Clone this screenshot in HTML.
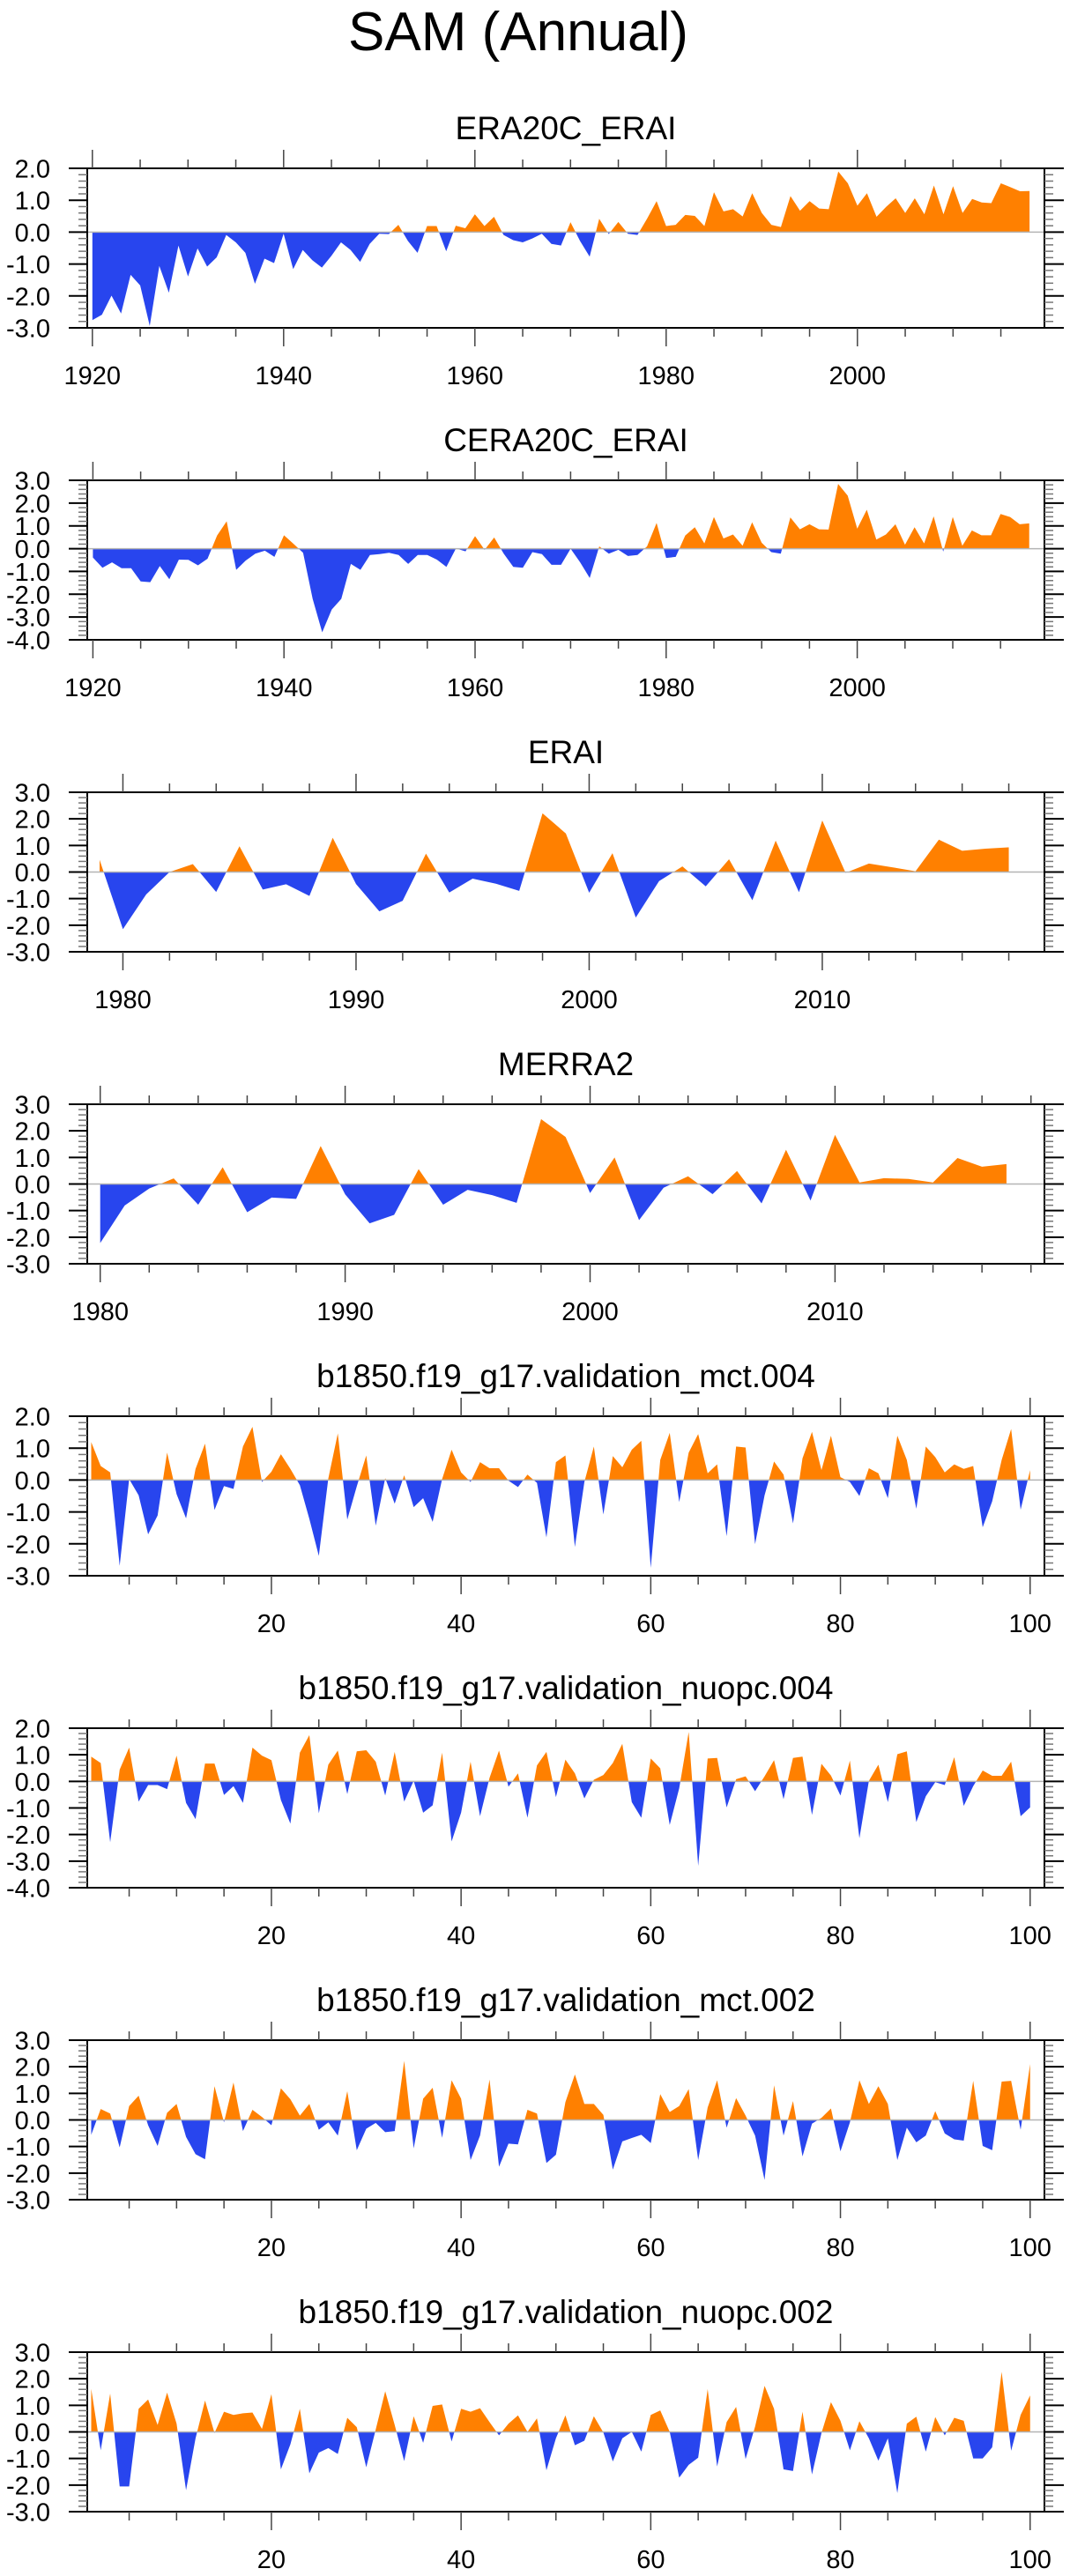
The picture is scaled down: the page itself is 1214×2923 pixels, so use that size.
<!DOCTYPE html>
<html><head><meta charset="utf-8"><title>SAM (Annual)</title>
<style>
html,body{margin:0;padding:0;background:#fff;}
svg{display:block;font-family:"Liberation Sans",sans-serif;}
</style></head>
<body>
<svg id="fig" xmlns="http://www.w3.org/2000/svg" width="1214" height="2923" viewBox="0 0 1214 2923">
<rect x="0" y="0" width="1214" height="2923" fill="#fff"/>
<text x="588" y="57" font-size="62" text-anchor="middle" fill="#000">SAM (Annual)</text>
</svg>
<script>
// ---------- data ----------
const titles = ["ERA20C_ERAI","CERA20C_ERAI","ERAI","MERRA2",
  "b1850.f19_g17.validation_mct.004","b1850.f19_g17.validation_nuopc.004",
  "b1850.f19_g17.validation_mct.002","b1850.f19_g17.validation_nuopc.002"];
const startYears = [1920,1920,1979,1980,1,1,1,1];
const yMins = [-3,-4,-3,-3,-3,-4,-3,-3];
const yMaxs = [2,3,3,3,2,2,3,3];
const xTickLabels = [[1920,1940,1960,1980,2000],[1920,1940,1960,1980,2000],[1980,1990,2000,2010],[1980,1990,2000,2010],[20,40,60,80,100],[20,40,60,80,100],[20,40,60,80,100],[20,40,60,80,100]];
const era20c = [-2.76,-2.59,-1.99,-2.55,-1.34,-1.67,-2.94,-1.06,-1.9,-0.42,-1.39,-0.51,-1.08,-0.79,-0.09,-0.32,-0.65,-1.62,-0.83,-0.97,-0.05,-1.16,-0.56,-0.88,-1.11,-0.74,-0.32,-0.56,-0.93,-0.37,-0.05,-0.06,0.23,-0.28,-0.65,0.19,0.19,-0.6,0.2,0.12,0.56,0.19,0.48,-0.09,-0.25,-0.32,-0.2,-0.05,-0.37,-0.42,0.31,-0.28,-0.77,0.42,-0.06,0.32,-0.05,-0.09,0.42,0.97,0.19,0.23,0.54,0.51,0.19,1.25,0.65,0.72,0.49,1.22,0.6,0.23,0.16,1.13,0.67,0.97,0.74,0.72,1.9,1.53,0.83,1.22,0.48,0.79,1.06,0.6,1.06,0.56,1.46,0.56,1.44,0.6,1.04,0.93,0.91,1.53,1.41,1.28,1.29];
const cera20c = [-0.39,-0.84,-0.6,-0.86,-0.86,-1.44,-1.47,-0.76,-1.34,-0.48,-0.49,-0.73,-0.44,0.58,1.2,-0.93,-0.52,-0.22,-0.09,-0.36,0.59,0.21,-0.18,-2.2,-3.67,-2.67,-2.2,-0.67,-0.93,-0.28,-0.24,-0.18,-0.28,-0.67,-0.28,-0.28,-0.48,-0.8,0.01,-0.12,0.55,-0.05,0.49,-0.22,-0.8,-0.84,-0.15,-0.24,-0.71,-0.71,0,-0.6,-1.29,0.1,-0.22,-0.05,-0.32,-0.28,0.1,1.13,-0.41,-0.36,0.58,0.94,0.23,1.39,0.45,0.62,0.13,1.16,0.26,-0.15,-0.22,1.37,0.85,1.07,0.85,0.84,2.84,2.33,0.88,1.71,0.4,0.62,1.07,0.17,0.94,0.23,1.42,-0.13,1.39,0.13,0.8,0.59,0.59,1.52,1.39,1.07,1.11];
const erai = [0.46,-2.15,-0.84,0.0,0.3,-0.75,0.97,-0.66,-0.46,-0.9,1.29,-0.45,-1.48,-1.08,0.69,-0.77,-0.25,-0.44,-0.71,2.21,1.45,-0.78,0.71,-1.71,-0.34,0.21,-0.54,0.48,-1.06,1.18,-0.76,1.94,-0.03,0.32,0.18,0.03,1.22,0.8,0.88,0.93];
const merra2 = [-2.22,-0.81,-0.17,0.21,-0.78,0.63,-1.06,-0.51,-0.56,1.43,-0.39,-1.48,-1.16,0.56,-0.78,-0.22,-0.42,-0.71,2.44,1.77,-0.34,1.0,-1.36,-0.14,0.29,-0.38,0.49,-0.73,1.29,-0.62,1.85,0.06,0.22,0.19,0.06,0.98,0.65,0.75];
const mct004 = [1.19,0.44,0.24,-2.69,0.03,-0.48,-1.7,-1.11,0.86,-0.44,-1.2,0.35,1.14,-0.94,-0.19,-0.28,1.05,1.67,-0.06,0.26,0.81,0.35,-0.16,-1.22,-2.38,0.05,1.46,-1.24,-0.2,0.77,-1.43,0.06,-0.74,0.15,-0.85,-0.57,-1.31,0.03,0.95,0.24,-0.06,0.56,0.37,0.37,-0.02,-0.22,0.17,-0.09,-1.8,0.56,0.77,-2.1,-0.06,1.05,-1.08,0.75,0.4,0.95,1.23,-2.75,0.63,1.48,-0.69,0.86,1.44,0.21,0.49,-1.76,1.05,1.02,-2.01,-0.48,0.58,0.17,-1.36,0.68,1.51,0.31,1.39,0.09,-0.06,-0.5,0.37,0.21,-0.57,1.39,0.63,-0.9,1.05,0.72,0.24,0.49,0.35,0.44,-1.48,-0.67,0.63,1.6,-0.93,0.31];
const nuopc004 = [0.93,0.69,-2.29,0.44,1.27,-0.76,-0.14,-0.14,-0.29,0.97,-0.81,-1.42,0.67,0.67,-0.51,-0.18,-0.81,1.27,0.97,0.8,-0.7,-1.59,1.08,1.74,-1.2,0.63,1.16,-0.48,1.13,1.17,0.74,-0.53,1.11,-0.76,0.02,-1.18,-0.9,1.08,-2.26,-1.18,0.74,-1.31,0.13,1.16,-0.2,0.3,-1.37,0.6,1.11,-0.59,0.82,0.3,-0.64,0.06,0.24,0.69,1.41,-0.78,-1.37,0.86,0.49,-1.64,-0.26,1.86,-3.18,0.86,0.88,-0.98,0.08,0.19,-0.37,0.19,0.8,-0.67,0.88,0.93,-1.26,0.66,0.22,-0.53,0.78,-2.14,0.02,0.63,-0.78,1.02,1.13,-1.53,-0.56,-0.03,-0.14,0.91,-0.92,-0.18,0.41,0.21,0.21,0.74,-1.31,-0.98];
const mct002 = [-0.56,0.41,0.24,-1.03,0.52,0.91,-0.2,-0.98,0.27,0.6,-0.64,-1.29,-1.48,1.27,-0.09,1.41,-0.42,0.38,0.11,-0.2,1.19,0.78,0.16,0.6,-0.37,-0.09,-0.59,1.08,-1.14,-0.33,-0.11,-0.46,-0.42,2.22,-1.07,0.8,1.21,-0.67,1.49,0.8,-1.51,-0.59,1.52,-1.76,-0.89,-0.92,0.38,0.24,-1.62,-1.31,0.67,1.71,0.6,0.6,0.19,-1.87,-0.81,-0.68,-0.56,-0.87,0.97,0.3,0.52,1.16,-1.51,0.47,1.49,-0.29,0.82,0.16,-0.59,-2.26,1.3,-0.59,0.71,-1.37,-0.14,0.08,0.43,-1.18,-0.09,1.49,0.6,1.27,0.6,-1.51,-0.29,-0.84,-0.59,0.33,-0.51,-0.73,-0.78,1.47,-0.98,-1.14,1.44,1.47,-0.37,2.1];
const nuopc002 = [1.62,-0.69,1.44,-2.05,-2.05,0.87,1.22,0.26,1.48,0.31,-2.19,-0.24,1.18,-0.04,0.76,0.64,0.7,0.73,0.11,1.42,-1.41,-0.47,0.87,-1.56,-0.78,-0.61,-0.83,0.53,0.18,-1.33,0.09,1.53,0.26,-1.1,0.59,-0.41,0.98,1.03,-0.36,0.87,0.76,0.89,0.37,-0.13,0.31,0.62,0,0.51,-1.44,-0.24,0.62,-0.5,-0.33,0.59,-0.02,-1.11,-0.24,0,-0.74,0.64,0.81,0,-1.72,-1.24,-0.97,1.61,-1.3,0.37,0.94,-1.02,0.2,1.73,0.87,-1.41,-1.47,0.76,-1.6,-0.04,1.12,0.42,-0.69,0.4,-0.24,-1.08,-0.24,-2.3,0.31,0.57,-0.74,0.56,-0.13,0.53,0.42,-1.0,-1.0,-0.58,2.26,-0.71,0.64,1.37];
const seriesList = [era20c,cera20c,erai,merra2,mct004,nuopc004,mct002,nuopc002];

// ---------- layout ----------
const NS = "http://www.w3.org/2000/svg";
const svg = document.getElementById("fig");
const FL = 99, FR = 1185, PH = 181;
// per-panel x-axis (pixel of first unit, pixel per unit) + tick settings
const xAxes = [
  {x0:104.8, u:10.85, minor:5, lo:1920, hi:2019},
  {x0:105.4, u:10.84, minor:5, lo:1920, hi:2019},
  {x0:113.0, u:26.45, minor:2, lo:1978, hi:2019},
  {x0:113.7, u:27.79, minor:2, lo:1980, hi:2019},
  {x0:103.5, u:10.76, minor:5, lo:1, hi:101},
  {x0:103.5, u:10.76, minor:5, lo:1, hi:101},
  {x0:103.5, u:10.76, minor:5, lo:1, hi:101},
  {x0:103.5, u:10.76, minor:5, lo:1, hi:101}
];
function mk(tag, attrs, parent){
  const e = document.createElementNS(NS, tag);
  for (const k in attrs) e.setAttribute(k, attrs[k]);
  (parent||svg).appendChild(e);
  return e;
}
function fmt(v){ return (v<0?"-":"") + Math.abs(v).toFixed(1); }

for (let p=0; p<8; p++){
  const top = 191 + 354*p, bot = top + PH;
  const ax = xAxes[p], first = startYears[p];
  const xs = v => ax.x0 + (v - first)*ax.u;
  const ymin = yMins[p], ymax = yMaxs[p];
  const ys = v => top + (ymax - v)/(ymax - ymin)*PH;
  const g = mk("g", {});
  
  

  const t = mk("text", {x:642, y:top-33, "font-size":37, "text-anchor":"middle", fill:"#000"}, g);
  t.textContent = titles[p];
  
  

  // area fills
  const vals = seriesList[p];
  const z = ys(0);
  let d = "M" + xs(first).toFixed(2) + "," + z.toFixed(2);
  vals.forEach((v,i)=>{ d += " L" + xs(first+i).toFixed(2) + "," + ys(v).toFixed(2); });
  d += " L" + xs(first+vals.length-1).toFixed(2) + "," + z.toFixed(2) + " Z";
  const cid = "c"+p;
  const defs = mk("defs", {}, g);
  const cpA = mk("clipPath", {id:cid+"a"}, defs);
  mk("rect", {x:FL, y:top, width:FR-FL, height:z-top}, cpA);
  const cpB = mk("clipPath", {id:cid+"b"}, defs);
  mk("rect", {x:FL, y:z, width:FR-FL, height:bot-z}, cpB);
  const pos = mk("path", {d:d, fill:"#ff8000", "clip-path":"url(#"+cid+"a)"}, g);
  
  
  const neg = mk("path", {d:d, fill:"#2845ee", "clip-path":"url(#"+cid+"b)"}, g);
  
  
  const zl = mk("line", {x1:FL, x2:FR, y1:z, y2:z, stroke:"#b4b4b4", "stroke-width":1.5}, g);
  
  

  // frame
  const fr = mk("rect", {x:FL, y:top, width:FR-FL, height:PH, fill:"none", stroke:"#000", "stroke-width":2}, g);
  
  

  // y ticks
  for (let v=ymin; v<=ymax+1e-9; v+=0.2){
    const y = ys(v);
    const major = Math.abs(v - Math.round(v)) < 1e-6;
    if (major){
      mk("line", {x1:78, x2:FL, y1:y, y2:y, stroke:"#000", "stroke-width":2}, g);
      mk("line", {x1:FR, x2:1207, y1:y, y2:y, stroke:"#000", "stroke-width":2}, g);
      const lab = mk("text", {x:57, y:y+10.5, "font-size":29, "text-anchor":"end", fill:"#000"}, g);
      lab.textContent = fmt(Math.round(v));
      
      
    } else {
      mk("line", {x1:89, x2:FL, y1:y, y2:y, stroke:"#777", "stroke-width":1.5}, g);
      mk("line", {x1:FR, x2:1195, y1:y, y2:y, stroke:"#777", "stroke-width":1.5}, g);
    }
  }
  // x ticks
  const majStep = xTickLabels[p][1]-xTickLabels[p][0];
  for (let v=Math.ceil(ax.lo/ax.minor)*ax.minor; v<=ax.hi; v+=ax.minor){
    const x = xs(v);
    if (x < FL-1 || x > FR+1) continue;
    const major = v % majStep === 0;
    const L = major ? 21 : 10;
    mk("line", {x1:x, x2:x, y1:top-L, y2:top, stroke:"#444", "stroke-width":1.5}, g);
    mk("line", {x1:x, x2:x, y1:bot, y2:bot+L, stroke:"#444", "stroke-width":1.5}, g);
  }
  xTickLabels[p].forEach(v=>{
    const lab = mk("text", {x:xs(v), y:bot+64, "font-size":29, "text-anchor":"middle", fill:"#000"}, g);
    lab.textContent = String(v);
    
    
  });
}
</script>
</body></html>
